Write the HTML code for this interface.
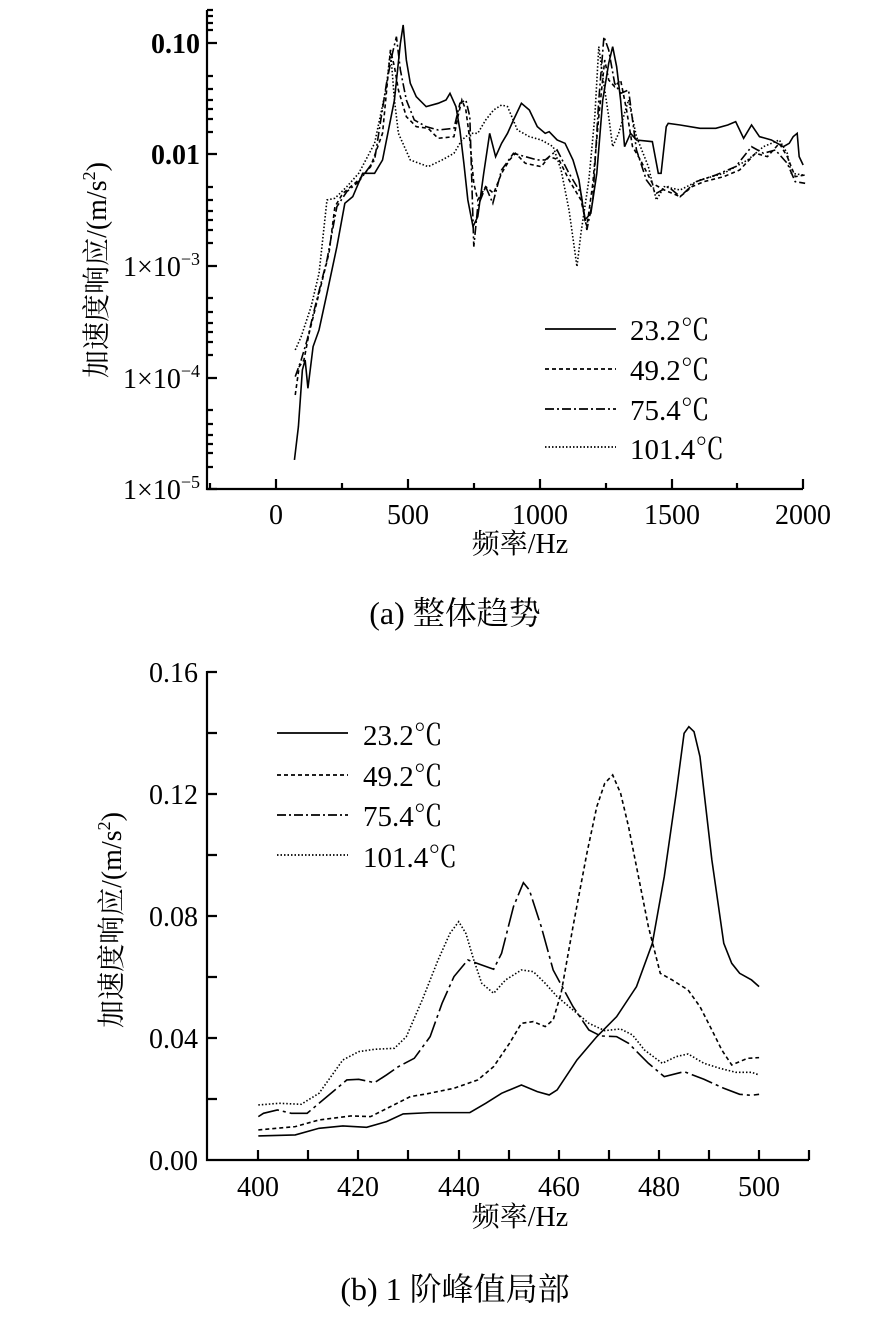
<!DOCTYPE html>
<html><head><meta charset="utf-8"><style>
body{margin:0;background:#fff;}
svg{display:block;font-family:"Liberation Serif","Noto Serif CJK SC","Noto Sans CJK SC",serif;}
</style></head><body>
<svg width="892" height="1319" viewBox="0 0 892 1319" xmlns="http://www.w3.org/2000/svg">
<rect width="892" height="1319" fill="#fff"/>
<!-- TOP CHART -->
<g stroke="#000" stroke-width="2.2" fill="none">
<path d="M207 10 V489 H803"/>
<path d="M276 489v-10M408 489v-10M540 489v-10M672 489v-10M803 489v-10M342 489v-6M474 489v-6M606 489v-6M737 489v-6M210 489v-6"/>
<path d="M207 43h10M207 154h10M207 266h10M207 378h10M207 489h10"/>
<path d="M207 10h6M207 410h6M207 424h6M207 435h6M207 444h6M207 453h6M207 467h6M207 298h6M207 312h6M207 323h6M207 332h6M207 342h6M207 355h6M207 187h6M207 200h6M207 211h6M207 220h6M207 230h6M207 243h6M207 76h6M207 89h6M207 100h6M207 109h6M207 119h6M207 132h6M207 16h6M207 23h6M207 30h6"/>
</g>
<g font-size="28" text-anchor="end" font-weight="bold">
<text x="200" y="53">0.10</text><text x="200" y="164">0.01</text>
</g>
<g font-size="28" text-anchor="end">
<text x="200" y="276">1×10<tspan dy="-11" font-size="18">−3</tspan></text>
<text x="200" y="388">1×10<tspan dy="-11" font-size="18">−4</tspan></text>
<text x="200" y="499">1×10<tspan dy="-11" font-size="18">−5</tspan></text>
</g>
<g font-size="28" text-anchor="middle">
<text x="276" y="524">0</text><text x="408" y="524">500</text><text x="540" y="524">1000</text><text x="672" y="524">1500</text><text x="803" y="524">2000</text>
<text x="520" y="553">频率/Hz</text>
<text x="455" y="624" font-size="32">(a)  整体趋势</text>
<text transform="translate(106,270) rotate(-90)">加速度响应/(m/s<tspan dy="-11" font-size="18">2</tspan><tspan dy="11">)</tspan></text>
</g>
<g transform="translate(200,0) scale(0.3968,0.3333)" fill="none" stroke="#000" stroke-width="1.6">
<polyline vector-effect="non-scaling-stroke" points="238,1380 248,1280 258,1110 265,1080 272,1165 285,1040 300,990 320,880 345,740 365,610 385,590 410,520 440,520 460,480 490,300 505,130 512,75 520,180 530,250 545,290 570,320 600,310 620,300 630,280 645,320 655,390 665,490 675,600 688,680 700,650 715,520 730,400 745,470 760,430 775,400 790,360 810,310 830,330 850,380 870,400 880,395 900,420 920,430 940,480 955,540 970,660 985,640 1000,520 1015,300 1030,190 1040,140 1050,200 1060,300 1070,440 1085,400 1100,420 1140,425 1155,520 1162,520 1175,380 1180,370 1210,375 1260,385 1300,385 1330,375 1350,365 1370,415 1390,375 1410,410 1440,420 1470,440 1485,430 1495,410 1505,400 1510,470 1520,495"/>
<polyline vector-effect="non-scaling-stroke" stroke-dasharray="4,3" points="240,1185 250,1100 262,1080 275,1000 300,880 325,760 340,620 360,580 400,540 430,500 460,400 480,150 490,200 500,270 520,350 545,380 575,385 600,415 640,410 650,350 660,300 670,330 680,420 690,550 700,600 720,560 740,580 760,520 780,480 795,460 820,490 840,495 860,500 880,470 905,480 930,540 960,600 975,680 990,550 1005,350 1020,180 1030,240 1045,260 1060,240 1075,330 1090,440 1110,480 1140,550 1170,570 1210,590 1240,560 1270,545 1320,530 1360,510 1400,460 1430,470 1460,430 1480,470 1500,530 1525,525"/>
<polyline vector-effect="non-scaling-stroke" stroke-dasharray="9,3,2,3" points="240,1130 255,1080 270,1020 290,920 320,780 345,620 370,575 400,545 440,480 470,250 485,160 495,110 505,210 520,300 540,360 570,380 600,390 640,385 655,310 670,300 680,350 690,740 700,620 720,560 738,610 760,510 790,460 820,470 850,480 870,480 900,450 930,520 960,580 975,690 990,600 1005,300 1018,110 1030,150 1045,250 1060,280 1080,270 1100,450 1125,540 1150,580 1180,560 1210,590 1250,545 1300,525 1350,500 1390,440 1420,460 1450,450 1480,490 1500,545 1525,550"/>
<polyline vector-effect="non-scaling-stroke" stroke-dasharray="1.5,2" points="240,1050 255,1010 280,920 300,820 320,600 340,595 370,560 400,520 440,430 470,260 480,150 490,300 500,400 530,480 575,500 610,480 640,460 660,420 680,400 700,400 720,360 740,330 760,315 775,320 800,390 830,410 860,420 890,440 910,510 930,630 950,800 960,700 980,540 995,350 1005,140 1015,230 1030,350 1040,440 1055,400 1080,300 1100,410 1120,470 1130,500 1150,600 1170,560 1210,570 1260,540 1320,520 1380,480 1420,440 1460,420 1480,460 1490,520 1520,525"/>
</g>
<g stroke="#000" stroke-width="1.8">
<line x1="545" y1="329" x2="616" y2="329"/>
<line x1="545" y1="369" x2="616" y2="369" stroke-dasharray="4,3"/>
<line x1="545" y1="409" x2="616" y2="409" stroke-dasharray="9,3,2,3"/>
<line x1="545" y1="447" x2="616" y2="447" stroke-dasharray="1.5,2"/>
</g>
<g font-size="29"><text x="630" y="340">23.2℃</text><text x="630" y="380">49.2℃</text><text x="630" y="420">75.4℃</text><text x="630" y="459">101.4℃</text></g>

<!-- BOTTOM CHART -->
<g stroke="#000" stroke-width="2.2" fill="none">
<path d="M207 671 V1160 H809"/>
<path d="M258 1160v-10M308 1160v-10M358 1160v-10M408 1160v-10M459 1160v-10M509 1160v-10M559 1160v-10M609 1160v-10M659 1160v-10M709 1160v-10M759 1160v-10M809 1160v-10"/>
<path d="M207 1038h10M207 916h10M207 794h10M207 672h10M207 1099h10M207 977h10M207 855h10M207 733h10"/>
</g>
<g font-size="28" text-anchor="end">
<text x="198" y="1170">0.00</text><text x="198" y="1048">0.04</text><text x="198" y="926">0.08</text><text x="198" y="804">0.12</text><text x="198" y="682">0.16</text>
</g>
<g font-size="28" text-anchor="middle">
<text x="258" y="1196">400</text><text x="358" y="1196">420</text><text x="459" y="1196">440</text><text x="559" y="1196">460</text><text x="659" y="1196">480</text><text x="759" y="1196">500</text>
<text x="520" y="1226">频率/Hz</text>
<text x="455" y="1300" font-size="32">(b) 1 阶峰值局部</text>
<text transform="translate(121,920) rotate(-90)">加速度响应/(m/s<tspan dy="-11" font-size="18">2</tspan><tspan dy="11">)</tspan></text>
</g>
<g transform="translate(200,660) scale(0.3968,0.3333)" fill="none" stroke="#000" stroke-width="1.6">
<polyline vector-effect="non-scaling-stroke" points="147,1428 240,1425 300,1405 360,1398 420,1402 470,1385 512,1362 580,1358 680,1358 720,1330 760,1300 810,1275 850,1295 880,1305 900,1290 950,1200 1000,1130 1050,1070 1100,980 1140,850 1170,650 1200,400 1220,220 1232,200 1245,215 1260,290 1290,600 1320,850 1340,910 1360,940 1390,960 1409,980"/>
<polyline vector-effect="non-scaling-stroke" stroke-dasharray="4,3" points="147,1410 240,1400 300,1380 380,1368 430,1370 480,1340 530,1310 570,1302 640,1285 700,1260 740,1220 780,1150 810,1090 840,1085 870,1100 890,1080 910,1000 940,800 975,580 1000,440 1020,370 1040,345 1060,400 1080,500 1100,620 1130,800 1160,940 1190,960 1230,990 1260,1040 1290,1110 1315,1170 1340,1215 1380,1195 1409,1193"/>
<polyline vector-effect="non-scaling-stroke" stroke-dasharray="22,4,3,4" points="147,1370 160,1360 195,1350 230,1360 270,1360 300,1330 340,1290 370,1260 400,1258 440,1268 470,1245 500,1220 540,1195 580,1130 610,1030 640,950 675,900 710,915 740,928 760,880 790,740 815,668 830,690 860,800 890,930 940,1040 980,1110 1010,1128 1050,1130 1080,1150 1130,1210 1170,1250 1220,1235 1270,1258 1320,1285 1360,1303 1390,1306 1409,1303"/>
<polyline vector-effect="non-scaling-stroke" stroke-dasharray="1.5,2" points="147,1335 200,1330 255,1333 300,1300 360,1200 400,1175 440,1168 490,1165 520,1130 560,1020 600,900 630,820 652,785 670,820 690,900 710,970 740,1000 770,960 810,930 840,935 870,970 900,1010 940,1050 980,1090 1020,1112 1060,1107 1090,1125 1120,1170 1165,1210 1200,1190 1230,1182 1270,1210 1310,1225 1350,1237 1390,1237 1409,1245"/>
</g>
<g stroke="#000" stroke-width="1.8">
<line x1="277" y1="733" x2="348" y2="733"/>
<line x1="277" y1="775" x2="348" y2="775" stroke-dasharray="4,3"/>
<line x1="277" y1="815" x2="348" y2="815" stroke-dasharray="9,3,2,3"/>
<line x1="277" y1="855" x2="348" y2="855" stroke-dasharray="1.5,2"/>
</g>
<g font-size="29"><text x="363" y="745">23.2℃</text><text x="363" y="786">49.2℃</text><text x="363" y="826">75.4℃</text><text x="363" y="867">101.4℃</text></g>
</svg>
</body></html>
